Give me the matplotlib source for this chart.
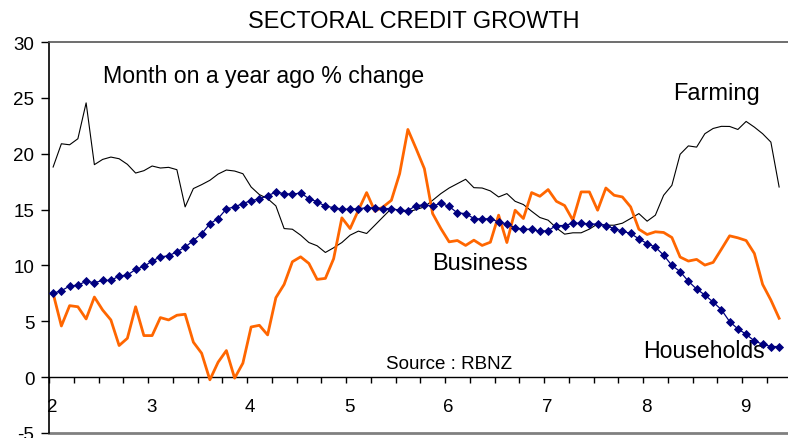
import matplotlib
matplotlib.use("Agg")
import matplotlib.pyplot as plt
import numpy as np

plt.rcParams['font.family'] = ['Liberation Sans', 'DejaVu Sans']

# Monthly data, Jan 2002 .. May 2009 (89 months)
households = [7.5, 7.74, 8.15, 8.24, 8.57, 8.45, 8.66, 8.66, 9.05, 9.14,
              9.64, 9.91, 10.39, 10.77, 10.86, 11.22, 11.64, 12.23, 12.83, 13.72,
              14.2, 15.06, 15.24, 15.54, 15.8, 15.95, 16.25, 16.55, 16.43, 16.37,
              16.49, 15.98, 15.7, 15.3, 15.18, 15.03, 15.03, 15.09, 15.15, 15.15,
              15.09, 15.09, 14.94, 14.91, 15.36, 15.42, 15.3, 15.57, 15.28, 14.7,
              14.64, 14.2, 14.14, 14.2, 13.87, 13.72, 13.36, 13.24, 13.24, 13.04,
              13.12, 13.57, 13.57, 13.78, 13.78, 13.72, 13.69, 13.57, 13.3, 13.07,
              12.86, 12.38, 11.96, 11.64, 10.92, 10.0, 9.45, 8.58, 7.89, 7.35,
              6.72, 6.04, 4.97, 4.32, 3.84, 3.24, 2.95, 2.74, 2.74]

business = [7.5, 4.58, 6.4, 6.3, 5.21, 7.17, 6.01, 5.12, 2.83, 3.48,
            6.3, 3.72, 3.72, 5.33, 5.12, 5.54, 5.63, 3.13, 2.14, -0.24,
            1.34, 2.38, -0.09, 1.25, 4.49, 4.64, 3.78, 7.11, 8.3, 10.33,
            10.77, 10.18, 8.75, 8.84, 10.6, 14.26, 13.3, 14.94, 16.52, 14.85,
            15.24, 15.83, 18.21, 22.17, 20.45, 18.66, 14.64, 13.3, 12.11, 12.23,
            11.79, 12.26, 11.79, 12.08, 14.5, 12.05, 14.94, 14.2, 16.52, 16.19,
            16.79, 15.74, 15.36, 14.05, 16.58, 16.58, 14.94, 16.93, 16.28, 16.13,
            15.24, 13.24, 12.77, 13.01, 12.95, 12.5, 10.75, 10.39, 10.54, 10.03,
            10.27, 11.45, 12.65, 12.47, 12.23, 11.07, 8.3, 6.9, 5.27]

farming = [18.81, 20.89, 20.8, 21.34, 24.55, 19.02, 19.49, 19.7, 19.55, 19.05,
           18.27, 18.48, 18.9, 18.72, 18.78, 18.57, 15.24, 16.88, 17.23, 17.62,
           18.18, 18.54, 18.45, 18.21, 17.02, 16.34, 15.98, 15.33, 13.3, 13.24,
           12.71, 12.05, 11.76, 11.16, 11.58, 12.05, 12.71, 13.07, 12.86, 13.6,
           14.35, 15.09, 14.91, 14.79, 15.0, 15.24, 15.83, 16.43, 16.93, 17.32,
           17.71, 16.96, 16.93, 16.67, 16.13, 16.43, 15.74, 15.45, 14.85, 14.29,
           14.05, 13.36, 12.8, 12.92, 12.92, 13.25, 13.72, 13.6, 13.6, 13.78,
           14.2, 14.64, 13.96, 14.5, 16.28, 17.17, 19.95, 20.7, 20.59, 21.79,
           22.26, 22.45, 22.44, 22.17, 22.89, 22.38, 21.79, 21.04, 17.02]

year_labels = ['2', '3', '4', '5', '6', '7', '8', '9']
y_ticks = [-5, 0, 5, 10, 15, 20, 25, 30]

n = len(households)
x = np.arange(n) + 0.5

fig = plt.figure(figsize=(7.88, 4.39), dpi=100)
ax = fig.add_axes([49/788, 1 - 434/439, 1 - 49/788, (434 - 43)/439])

ax.plot(x, farming, color='black', lw=0.8, zorder=3)
ax.plot(x, business, color='#FF6600', lw=2.0, zorder=4)
ax.plot(x, households, color='#000080', lw=0.9, marker='D', ms=4.2,
        markeredgewidth=0.6, zorder=5)

ax.set_xlim(0, 739 / 8.25)
ax.set_ylim(-5, 30)

# spines
ax.spines['right'].set_visible(False)
ax.spines['top'].set_color('#555555')
ax.spines['top'].set_linewidth(1.2)
ax.spines['left'].set_color('black')
ax.spines['left'].set_linewidth(1.2)
ax.spines['bottom'].set_position(('data', 0))
ax.spines['bottom'].set_color('black')
ax.spines['bottom'].set_linewidth(1.0)
ax.axhline(-5, color='#808080', lw=2.0, clip_on=False, zorder=2)

# y axis
ax.set_yticks(y_ticks)
ax.set_yticklabels([str(v) for v in y_ticks])
ax.tick_params(axis='y', direction='out', length=5.5, width=1, labelsize=13.5, pad=5)

# x axis: quarterly tick marks, yearly labels
ax.set_xticks(np.arange(0, n, 3), minor=True)
ax.set_xticks(np.arange(len(year_labels)) * 12 + 0.4)
ax.set_xticklabels(year_labels)
ax.tick_params(axis='x', which='minor', direction='out', length=4.5, width=1)
ax.tick_params(axis='x', which='major', length=0, pad=15, labelsize=13.5)

# texts
fig.text(414/788, 1 - 22/439, 'SECTORAL CREDIT GROWTH', ha='center', va='center', fontsize=16.9)
ax.text(6.5, 26.4, 'Month on a year ago % change', fontsize=16.7, ha='left', va='baseline')
ax.text(75.6, 24.9, 'Farming', fontsize=17, ha='left', va='baseline')
ax.text(46.4, 9.7, 'Business', fontsize=17, ha='left', va='baseline')
ax.text(72.0, 1.8, 'Households', fontsize=16.6, ha='left', va='baseline')
ax.text(40.8, 0.8, 'Source : RBNZ', fontsize=13.5, ha='left', va='baseline')

fig.savefig('out.png', dpi=100)
